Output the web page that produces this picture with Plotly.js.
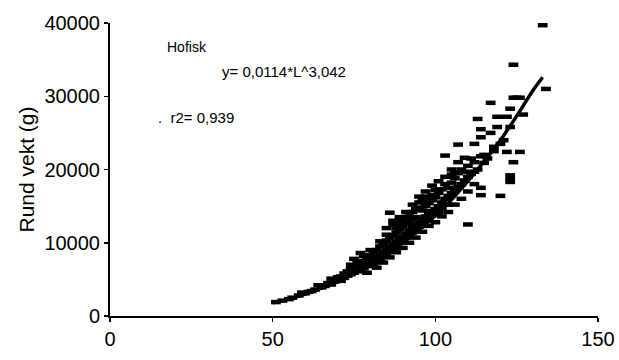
<!DOCTYPE html>
<html>
<head>
<meta charset="utf-8">
<script src="https://cdn.plot.ly/plotly-3.0.1.min.js"></script>
<style>html,body{margin:0;padding:0;background:#fff;}#chart{width:619px;height:360px;}</style>
</head>
<body>
<div id="chart"></div>
<script>
// Observed fish: length L (cm) and round weight (g)
const lengthL = [
51,53,55,56,58,59,60,61,62,63,
64,65,66,67,68,68,69,70,70,71,71,
72,72,73,73,74,74,75,75,75,76,76,77,77,77,78,78,78,79,79,79,80,80,80,80,
81,81,81,82,82,82,83,83,83,84,84,84,85,85,85,85,86,86,86,86,87,87,87,87,88,88,88,88,89,89,89,89,90,90,90,90,
91,91,91,91,92,92,92,92,93,93,93,93,94,94,94,94,95,95,95,95,96,96,96,96,97,97,97,97,98,98,98,99,99,99,100,100,100,100,
101,101,101,102,102,102,103,103,103,104,104,104,105,105,105,106,106,106,107,107,107,108,108,109,109,110,110,110,
111,112,112,112,113,113,114,114,114,114,114,115,115,116,117,117,118,118,119,119,120,120,121,
122,122,123,123,123,123,123,124,124,124,125,126,126,127,133,134,
74,76,78,79,80,82,83,84,85,86,87,88,89,90,91,92,93,94,95,96,97,98,99,100,101,102,103,104,105,106,107,108,109,110,111,112
];
const weightW = [
1900,2100,2300,2500,2800,3200,3100,3300,3400,3600,
4200,3900,4100,4500,5100,4300,4700,4900,5300,5400,4800,
5200,5800,5500,6100,5700,6400,7800,6200,5900,6600,6100,8600,6800,6300,7000,7500,6500,7200,7900,6800,7400,8300,6900,7800,
7600,8700,7100,8000,9000,7400,8300,9500,7800,8600,9900,8100,9000,10300,8400,11100,9400,10600,8800,14100,12500,9800,11000,9200,10100,11400,9600,12000,10500,11800,10000,12600,10800,12200,10300,13000,
11200,12600,10700,13500,11600,13600,11000,12800,12000,13300,11400,14200,12400,14600,11800,13500,12800,14800,12200,15500,13200,14400,12600,16000,13600,15000,13000,16300,14000,15400,13500,16500,14300,15800,14600,16200,13800,17200,
15000,16800,14200,15500,17300,14700,21900,16000,18000,16400,17500,15200,16800,19300,18200,19500,17200,18800,23400,17600,19500,18000,20000,21600,18500,12500,19000,20500,
19400,23500,19700,21000,20000,26900,25500,24400,21800,17500,16500,20900,22000,21500,29100,25000,23100,22500,27200,25800,16400,23500,24000,
27200,22400,18300,19200,18700,28300,25800,29800,21000,34300,29800,22400,29800,27500,39700,31000,
7000,7300,8200,5900,9000,6600,10200,7300,12000,8000,13000,8700,13500,9300,14200,10000,15200,10700,16300,11500,17000,12300,17800,12800,18400,13600,19000,14200,20000,15200,21000,16000,19700,17000,21500,18000
];
// Fitted curve
const fitL = [50, 55, 60, 65, 70, 75, 80, 85, 90, 95, 100, 105, 110, 115, 120, 125, 130, 133];
const fitW = [1800, 2300, 3000, 3800, 4700, 5800, 7000, 8400, 10000, 11800, 13700, 15900, 18400, 21100, 24000, 27300, 30800, 32600];

const xTicks = [0, 50, 100, 150];
const yTicks = [0, 10000, 20000, 30000, 40000];

const tickFont = {family: 'Liberation Sans, Arial, sans-serif', size: 20, color: '#000'};

const traces = [
  {
    x: lengthL, y: weightW, type: 'scatter', mode: 'markers',
    marker: {symbol: 'line-ew', size: 7, color: '#000', line: {color: '#000', width: 4.5}},
    hoverinfo: 'skip', showlegend: false
  },
  {
    x: fitL, y: fitW, type: 'scatter', mode: 'lines',
    line: {color: '#000', width: 3.5, shape: 'spline'},
    hoverinfo: 'skip', showlegend: false
  }
];

const layout = {
  width: 619, height: 360,
  margin: {l: 110, r: 21, t: 23, b: 44},
  paper_bgcolor: '#fff', plot_bgcolor: '#fff',
  showlegend: false,
  xaxis: {
    range: [0, 150], tickvals: xTicks, ticktext: xTicks.map(String),
    showgrid: false, zeroline: false, showline: true, linecolor: '#000', linewidth: 2,
    ticks: 'outside', ticklen: 4, tickwidth: 1.5, tickcolor: '#000',
    tickfont: tickFont, fixedrange: true
  },
  yaxis: {
    range: [0, 40000], tickvals: yTicks, ticktext: yTicks.map(String),
    showgrid: false, zeroline: false, showline: true, linecolor: '#000', linewidth: 2,
    ticks: 'outside', ticklen: 4, tickwidth: 1.5, tickcolor: '#000',
    tickfont: tickFont, fixedrange: true,
    title: {text: 'Rund vekt (g)', font: {family: 'Liberation Sans, Arial, sans-serif', size: 21, color: '#000'}, standoff: 4}
  },
  annotations: [
    {text: 'Hofisk', xref: 'paper', yref: 'paper', x: (165-110)/488, y: (316.5-47)/293.5, xanchor: 'left', yanchor: 'middle', showarrow: false, font: {family: 'Liberation Sans, Arial, sans-serif', size: 14, color: '#000'}},
    {text: 'y= 0,0114*L^3,042', xref: 'paper', yref: 'paper', x: (220-110)/488, y: (316.5-72)/293.5, xanchor: 'left', yanchor: 'middle', showarrow: false, font: {family: 'Liberation Sans, Arial, sans-serif', size: 15, color: '#000'}},
    {text: '.  r2= 0,939', xref: 'paper', yref: 'paper', x: (156-110)/488, y: (316.5-118)/293.5, xanchor: 'left', yanchor: 'middle', showarrow: false, font: {family: 'Liberation Sans, Arial, sans-serif', size: 15, color: '#000'}}
  ]
};

Plotly.newPlot('chart', traces, layout, {staticPlot: true, displayModeBar: false});
</script>
</body>
</html>
